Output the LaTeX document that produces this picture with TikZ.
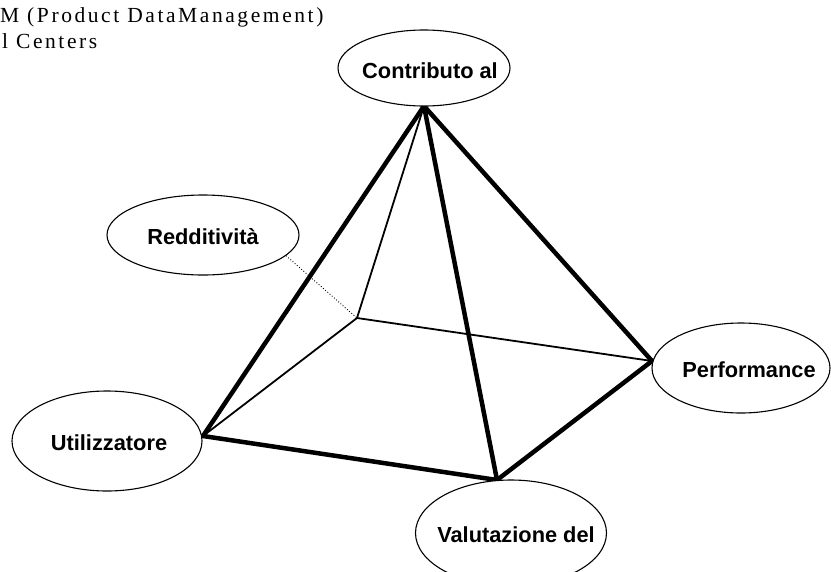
\documentclass[tikz,border=0pt]{standalone}
\usepackage{fontspec}
\setmainfont{Liberation Serif}
\newfontfamily\labelfont{Liberation Sans}
\newfontfamily\notefont[LetterSpace=12]{Liberation Serif}
\usetikzlibrary{shapes.geometric}
\begin{document}
\begin{tikzpicture}[x=1pt,y=-1pt,
  bubble/.style={ellipse,draw,line width=1.1pt,fill=white,inner sep=0pt},
  bubbletext/.style={font=\labelfont\bfseries\fontsize{21.8}{26}\selectfont,inner sep=0pt},
  thickedge/.style={line width=4.5pt,line cap=round,line join=miter},
  thinedge/.style={line width=1.8pt,line cap=round},
  note/.style={anchor=base west,inner sep=0pt,font=\notefont\fontsize{21.5}{25}\selectfont}]
\useasboundingbox (0,0) rectangle (831,571);

% notes at the upper left
\node[note] (n1) at (0,22) {M (Product DataManagement)};
\node[note] (n2) at (2,48) {l Centers};

% pyramid vertices
\coordinate (apex) at (424,106);
\coordinate (bb) at (357,318);
\coordinate (bl) at (203,436);
\coordinate (bf) at (497,480);
\coordinate (br) at (652,361);

% hidden and back edges
\draw[thinedge] (apex) -- (bb);
\draw[thinedge] (bb) -- (bl);
\draw[thinedge] (bb) -- (br);

% front edges
\draw[thickedge] (apex) -- (bl);
\draw[thickedge] (apex) -- (bf);
\draw[thickedge] (apex) -- (br);
\draw[thickedge] (bl) -- (bf);
\draw[thickedge] (bf) -- (br);

% labelled ellipses
\node[bubble,minimum width=172pt,minimum height=76pt] (contr) at (424,68) {};
\node[bubbletext] (contrt) at (430,71) {Contributo al};
\node[bubble,minimum width=192pt,minimum height=80pt] (redd) at (203,235) {};
\node[bubbletext] (reddt) at (203,237) {Redditività};
\node[bubble,minimum width=178pt,minimum height=90pt] (perf) at (741,368) {};
\node[bubbletext] (perft) at (749,370) {Performance};
\node[bubble,minimum width=190pt,minimum height=100pt] (util) at (107,441) {};
\node[bubbletext] (utilt) at (109,443) {Utilizzatore};
\node[bubble,minimum width=191pt,minimum height=106pt] (valu) at (511,533) {};
\node[bubbletext] (valut) at (516,535) {Valutazione del};

% dotted leader to the back corner
\draw[dotted,line width=0.9pt] (redd.-14) -- (bb);
\end{tikzpicture}
\end{document}
